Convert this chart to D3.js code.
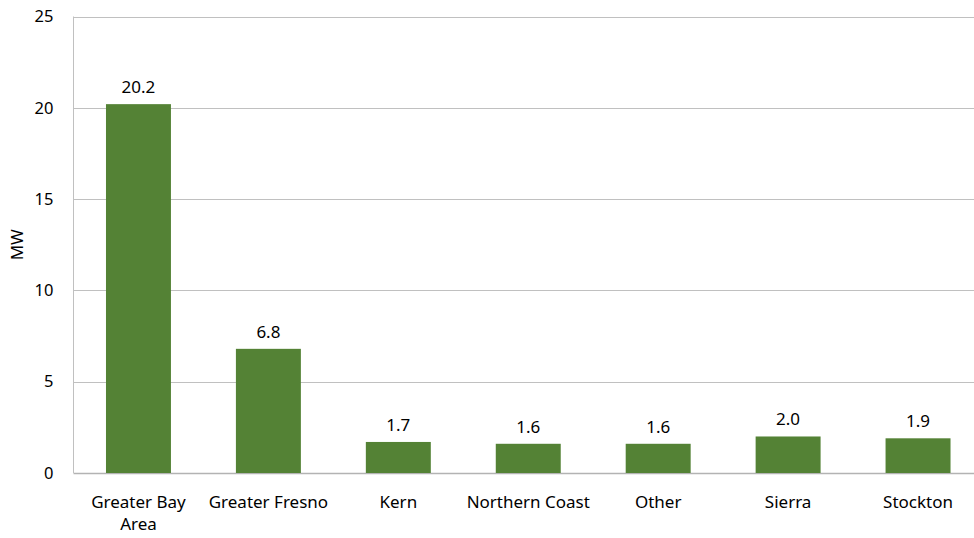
<!DOCTYPE html>
<html>
<head>
<meta charset="utf-8">
<script src="https://cdn.jsdelivr.net/npm/d3@7"></script>
<style>
  html, body { margin: 0; padding: 0; background: #fff; }
  svg { display: block; font-family: "Noto Sans", "Open Sans", sans-serif; }
</style>
</head>
<body>
<svg id="chart" width="974" height="538"></svg>
<script>
// Installed capacity by region (MW)
const regions = ["Greater Bay Area", "Greater Fresno", "Kern", "Northern Coast", "Other", "Sierra", "Stockton"];
const capacityMW = [20.2, 6.8, 1.7, 1.6, 1.6, 2.0, 1.9];
const yTicks = [0, 5, 10, 15, 20, 25];
const yLabel = "MW";

const svg = d3.select("#chart");
const margin = { left: 73.5, right: -9, top: 16.5, bottom: 65 };
const W = +svg.attr("width"), H = +svg.attr("height");

const x = d3.scaleBand()
  .domain(regions)
  .range([margin.left, W - margin.right])
  .paddingInner(0.5)
  .paddingOuter(0.25);

const y = d3.scaleLinear()
  .domain([0, 25])
  .range([H - margin.bottom, margin.top]);

const gridColor = "#c0c0c0";

// horizontal gridlines
svg.append("g")
  .selectAll("line")
  .data(yTicks)
  .join("line")
  .attr("x1", margin.left)
  .attr("x2", W - margin.right)
  .attr("y1", d => Math.round(y(d)) + 0.5)
  .attr("y2", d => Math.round(y(d)) + 0.5)
  .attr("stroke", d => d === 0 ? "#b3b3b3" : gridColor)
  .attr("stroke-width", d => d === 0 ? 1.5 : 1);

// left axis line
svg.append("line")
  .attr("x1", margin.left).attr("x2", margin.left)
  .attr("y1", y(25)).attr("y2", y(0))
  .attr("stroke", gridColor);

// y axis tick labels
const yAxis = d3.axisLeft(y).tickValues(yTicks).tickSize(0).tickPadding(20);
const gy = svg.append("g")
  .attr("transform", `translate(${margin.left},0)`)
  .call(yAxis);
gy.select(".domain").remove();
gy.selectAll("text")
  .attr("font-size", 16.5)
  .attr("font-family", "Noto Sans, sans-serif")
  .attr("fill", "#000");

// y axis title
svg.append("text")
  .attr("transform", `translate(23,${(y(0) + y(25)) / 2}) rotate(-90)`)
  .attr("text-anchor", "middle")
  .attr("font-size", 17)
  .attr("fill", "#000")
  .text(yLabel);

// bars
svg.append("g")
  .selectAll("rect")
  .data(regions)
  .join("rect")
  .attr("x", d => x(d))
  .attr("width", x.bandwidth())
  .attr("y", (d, i) => y(capacityMW[i]))
  .attr("height", (d, i) => y(0) - y(capacityMW[i]))
  .attr("fill", "#548235");

// value labels
svg.append("g")
  .selectAll("text")
  .data(regions)
  .join("text")
  .attr("x", d => x(d) + x.bandwidth() / 2)
  .attr("y", (d, i) => y(capacityMW[i]) - 11)
  .attr("text-anchor", "middle")
  .attr("font-size", 17)
  .attr("fill", "#000")
  .text((d, i) => capacityMW[i].toFixed(1));

// category labels, wrapped to the band step
const xAxis = d3.axisBottom(x).tickSize(0).tickPadding(23);
const gx = svg.append("g")
  .attr("transform", `translate(0,${y(0)})`)
  .call(xAxis);
gx.select(".domain").remove();
gx.selectAll("text")
  .attr("font-size", 17)
  .attr("font-family", "Noto Sans, sans-serif")
  .attr("fill", "#000")
  .call(wrap, x.step() - 4);

function wrap(sel, width) {
  sel.each(function () {
    const text = d3.select(this);
    const words = text.text().split(/\s+/);
    const yy = text.attr("y"), dy = parseFloat(text.attr("dy"));
    let line = [], lineNo = 0;
    let tspan = text.text(null).append("tspan").attr("x", 0).attr("y", yy).attr("dy", dy + "em");
    for (const w of words) {
      line.push(w);
      tspan.text(line.join(" "));
      if (tspan.node().getComputedTextLength() > width && line.length > 1) {
        line.pop();
        tspan.text(line.join(" "));
        line = [w];
        tspan = text.append("tspan").attr("x", 0).attr("y", yy)
          .attr("dy", (++lineNo * 1.3 + dy) + "em").text(w);
      }
    }
  });
}
</script>
</body>
</html>
